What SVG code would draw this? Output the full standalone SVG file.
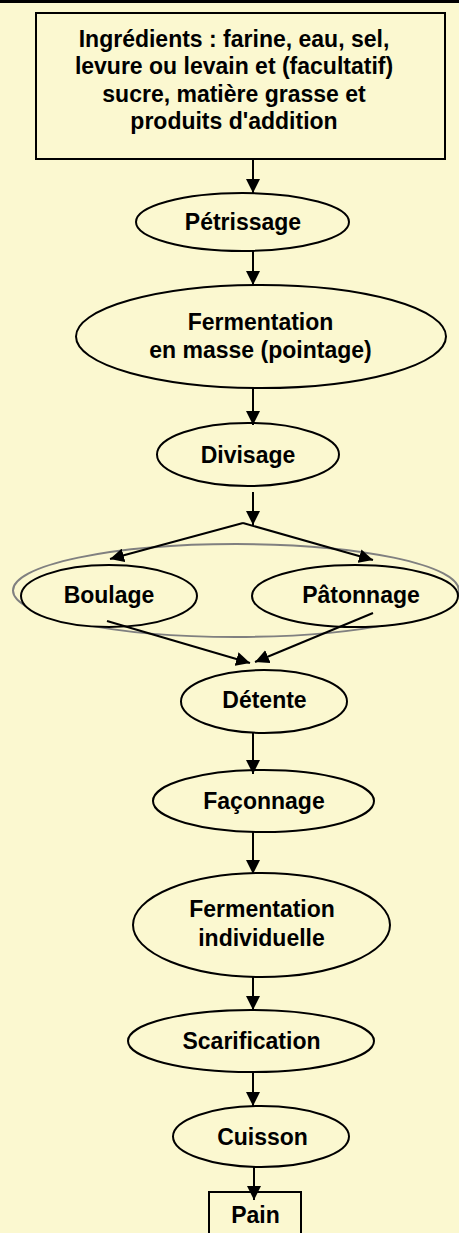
<svg xmlns="http://www.w3.org/2000/svg" width="459" height="1233" viewBox="0 0 459 1233">
<defs>
<marker id="ah" markerWidth="14" markerHeight="14" refX="14" refY="7" orient="auto" markerUnits="userSpaceOnUse" viewBox="0 0 14 14">
<path d="M0,0 L14,7 L0,14 Z" fill="#000"/>
</marker>
</defs>
<style>
.bg{fill:#FBF8D0}
.n{fill:#FBF8D0;stroke:#000;stroke-width:2}
.g{fill:none;stroke:#808080;stroke-width:2}
.t{font-family:"Liberation Sans",Arial,sans-serif;font-weight:bold;font-size:23px;fill:#000;text-anchor:middle}
.c{fill:none;stroke:#000;stroke-width:2;marker-end:url(#ah)}
.l{fill:none;stroke:#000;stroke-width:2}
</style>
<rect class="bg" x="0" y="0" width="459" height="1233"/>
<line x1="0" y1="1.5" x2="459" y2="1.5" stroke="#000" stroke-width="3"/>
<g id="groupe">
<ellipse class="g" cx="236" cy="590.5" rx="223" ry="46.5"/>
</g>
<g id="ingredients">
<rect class="n" x="36" y="13" width="409" height="146"/>
<text class="t" x="234" y="46.5">Ingrédients : farine, eau, sel,</text>
<text class="t" x="234" y="74">levure ou levain et (facultatif)</text>
<text class="t" x="234" y="101.5">sucre, matière grasse et</text>
<text class="t" x="234" y="129">produits d'addition</text>
</g>
<g id="petrissage">
<ellipse class="n" cx="242.5" cy="222" rx="106.5" ry="29"/>
<text class="t" x="243" y="230">Pétrissage</text>
</g>
<g id="fermentation-masse">
<ellipse class="n" cx="261" cy="336.5" rx="185" ry="51.5"/>
<text class="t" x="260.5" y="330">Fermentation</text>
<text class="t" x="260.5" y="358">en masse (pointage)</text>
</g>
<g id="divisage">
<ellipse class="n" cx="248" cy="454.5" rx="91" ry="31.5"/>
<text class="t" x="248" y="463">Divisage</text>
</g>
<g id="boulage">
<ellipse class="n" cx="109" cy="596" rx="88" ry="31"/>
<text class="t" x="109" y="603">Boulage</text>
</g>
<g id="patonnage">
<ellipse class="n" cx="355" cy="596" rx="103" ry="31"/>
<text class="t" x="361" y="603">Pâtonnage</text>
</g>
<g id="detente">
<ellipse class="n" cx="264" cy="701.5" rx="83" ry="31.5"/>
<text class="t" x="264.5" y="708">Détente</text>
</g>
<g id="faconnage">
<ellipse class="n" cx="263.5" cy="801" rx="110.5" ry="31"/>
<text class="t" x="264" y="809">Façonnage</text>
</g>
<g id="fermentation-individuelle">
<ellipse class="n" cx="261.5" cy="925" rx="128.5" ry="52"/>
<text class="t" x="262" y="917">Fermentation</text>
<text class="t" x="261.5" y="946">individuelle</text>
</g>
<g id="scarification">
<ellipse class="n" cx="251" cy="1041" rx="123" ry="31"/>
<text class="t" x="251.5" y="1049">Scarification</text>
</g>
<g id="cuisson">
<ellipse class="n" cx="261" cy="1136.5" rx="88" ry="30.5"/>
<text class="t" x="262.5" y="1145">Cuisson</text>
</g>
<g id="pain">
<rect class="n" x="209" y="1192" width="92" height="45"/>
<text class="t" x="255.5" y="1223">Pain</text>
</g>
<g id="connecteurs">
<line class="c" x1="253" y1="159" x2="253" y2="193"/>
<line class="c" x1="253" y1="251" x2="253" y2="285"/>
<line class="c" x1="253" y1="388" x2="253" y2="425"/>
<line class="c" x1="253" y1="492" x2="253" y2="525"/>
<line class="c" x1="243" y1="523" x2="110" y2="559"/>
<line class="c" x1="243" y1="523" x2="373" y2="560"/>
<line class="c" x1="107" y1="621" x2="250" y2="663"/>
<line class="c" x1="373" y1="613" x2="255" y2="662"/>
<line class="c" x1="253" y1="733" x2="253" y2="774"/>
<line class="c" x1="253" y1="832" x2="253" y2="874"/>
<line class="c" x1="253" y1="977" x2="253" y2="1010"/>
<line class="c" x1="253" y1="1072" x2="253" y2="1106"/>
<line class="c" x1="254" y1="1167" x2="254" y2="1200"/>
</g>
</svg>
